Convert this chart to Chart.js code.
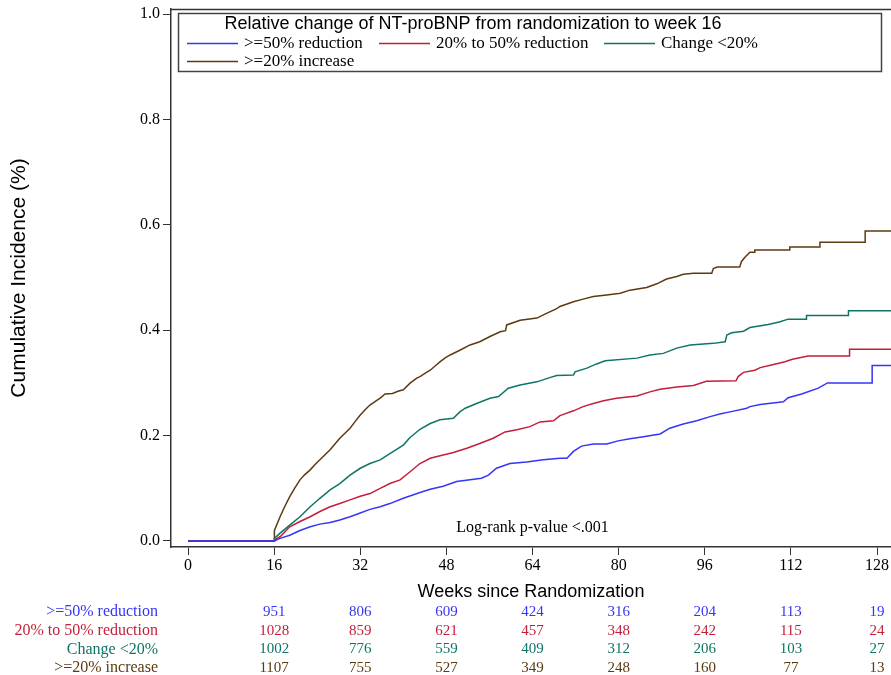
<!DOCTYPE html>
<html><head><meta charset="utf-8">
<script src="https://cdn.jsdelivr.net/npm/chart.js"></script>
<style>html,body{margin:0;padding:0;background:#fff;overflow:hidden}canvas{display:block}</style>
</head><body>
<canvas id="c" width="891" height="675"></canvas>
<script>
// ---- data ----
const xTicks = [0, 16, 32, 48, 64, 80, 96, 112, 128];
const yTicks = [0, 0.2, 0.4, 0.6, 0.8, 1.0];
const riskWeeks = [16, 32, 48, 64, 80, 96, 112, 128];
const groupNames = [">=50% reduction", "20% to 50% reduction", "Change <20%", ">=20% increase"];
const riskBlue  = [951, 806, 609, 424, 316, 204, 113, 19];
const riskRed   = [1028, 859, 621, 457, 348, 242, 115, 24];
const riskTeal  = [1002, 776, 559, 409, 312, 206, 103, 27];
const riskBrown = [1107, 755, 527, 349, 248, 160, 77, 13];
const legendTitle = "Relative change of NT-proBNP from randomization to week 16";
const pText = "Log-rank p-value <.001";

// [week, cumulative incidence] (vertical jumps given as two points at the same week)
const curveBlue = [[0,0],[16,0],[17.1,0.005],[18.9,0.011],[20.8,0.02],[22.7,0.027],[24.5,0.032],[26.4,0.035],[28.2,0.04],[30.1,0.046],[32,0.053],[33.8,0.06],[35.7,0.065],[37.5,0.071],[40,0.081],[43.1,0.092],[45,0.098],[47.4,0.104],[49.9,0.113],[52.4,0.116],[54.5,0.119],[55.8,0.125],[57.3,0.138],[59.8,0.147],[62.9,0.15],[66,0.154],[69.1,0.157],[70.4,0.157],[71.6,0.17],[73.1,0.18],[75.3,0.184],[77.8,0.184],[79.9,0.19],[82.1,0.194],[84.6,0.198],[87.7,0.203],[89.5,0.214],[92,0.222],[94.5,0.228],[97,0.236],[98.8,0.241],[100.7,0.245],[103.8,0.252],[104.4,0.255],[106.3,0.259],[110.6,0.264],[111.5,0.272],[114,0.279],[117.1,0.29],[118.8,0.3],[127.1,0.3],[127.1,0.333],[131,0.333]];
const curveRed = [[0,0],[16,0],[16.05,0.002],[17.1,0.008],[18.9,0.027],[20.8,0.037],[22.7,0.046],[24.5,0.056],[26.4,0.065],[28.2,0.071],[30.1,0.078],[32,0.085],[33.8,0.09],[35.7,0.1],[37.5,0.109],[39.4,0.116],[41.2,0.131],[43.1,0.147],[45,0.157],[47.4,0.163],[49.3,0.168],[51.8,0.176],[54.2,0.185],[56.7,0.195],[58.9,0.207],[61.1,0.211],[63.5,0.217],[65.4,0.226],[67.9,0.228],[69.1,0.238],[71.6,0.247],[73.4,0.255],[75.3,0.261],[77.2,0.266],[79.6,0.271],[83.4,0.275],[85.8,0.283],[87.7,0.288],[90.8,0.292],[93.9,0.295],[96.3,0.303],[101.8,0.304],[102.2,0.312],[103.2,0.32],[105.3,0.324],[106.3,0.329],[108,0.333],[110.9,0.34],[112.3,0.345],[115.2,0.351],[122.9,0.351],[122.9,0.364],[131,0.364]];
const curveTeal = [[0,0],[16,0],[16.05,0.005],[17.1,0.015],[18.9,0.03],[20.8,0.046],[22.7,0.065],[24.5,0.081],[26.4,0.097],[28.2,0.109],[30.1,0.125],[32,0.138],[33.8,0.147],[35.7,0.154],[37.5,0.166],[40,0.182],[41.2,0.196],[43.1,0.212],[45,0.223],[46.8,0.23],[49.3,0.233],[50.5,0.245],[51.5,0.252],[53.6,0.261],[56.1,0.271],[57.7,0.274],[59.5,0.29],[61.7,0.296],[64.8,0.302],[67.2,0.31],[68.5,0.314],[71.6,0.315],[71.9,0.321],[74.1,0.328],[75.9,0.336],[77.5,0.342],[83.4,0.347],[85.8,0.353],[88.3,0.356],[90.8,0.366],[93.3,0.372],[97.6,0.375],[99.8,0.378],[100.1,0.391],[101,0.395],[103.2,0.398],[104.4,0.405],[107.8,0.411],[110,0.416],[111.5,0.421],[114.9,0.421],[114.9,0.428],[122.7,0.428],[122.7,0.437],[131,0.437]];
const curveBrown = [[0,0],[16,0],[16.05,0.02],[17.1,0.046],[18,0.066],[18.9,0.084],[19.8,0.1],[20.8,0.116],[21.7,0.126],[22.7,0.135],[23.6,0.145],[24.5,0.154],[25.5,0.164],[26.4,0.173],[27.3,0.184],[28.2,0.195],[29.2,0.205],[30.1,0.214],[31,0.226],[32,0.239],[32.9,0.249],[33.8,0.258],[34.8,0.265],[35.7,0.271],[36.6,0.279],[38,0.28],[39,0.284],[40,0.287],[41.2,0.299],[42.5,0.309],[43.1,0.312],[44,0.318],[45,0.324],[45.9,0.332],[46.8,0.34],[47.7,0.347],[48.7,0.353],[50.5,0.362],[52.4,0.372],[54.2,0.378],[56.1,0.388],[58,0.397],[59,0.399],[59.2,0.41],[61.7,0.419],[64.8,0.423],[66.6,0.432],[68.5,0.441],[69.1,0.445],[71.6,0.454],[73.4,0.459],[75.3,0.464],[77.8,0.467],[80.3,0.47],[82.1,0.476],[85.2,0.481],[87.1,0.488],[88.9,0.497],[90.8,0.502],[92,0.506],[93.9,0.508],[97.3,0.508],[97.6,0.517],[98.3,0.52],[102.5,0.52],[102.8,0.53],[103.5,0.539],[104.4,0.548],[105.3,0.548],[105.3,0.552],[111.8,0.552],[111.8,0.558],[117.4,0.558],[117.4,0.567],[125.8,0.567],[125.8,0.588],[131,0.588]];

// ---- styles ----
const lineColors = ['#3535f8', '#c41e3a', '#0f7466', '#5c3b12'];
const textColors = ['#3535f8', '#c41e3a', '#0f7466', '#5c3b12'];
const SERIF = '"Liberation Serif", "Times New Roman", serif';
const SANS = '"Liberation Sans", Arial, sans-serif';

const curves = [curveBlue, curveRed, curveTeal, curveBrown];
const risks = [riskBlue, riskRed, riskTeal, riskBrown];

const decor = {
  id: 'decor',
  afterDraw(chart) {
    const {ctx, chartArea: a, scales: {x}} = chart;
    ctx.save();
    // top frame line
    ctx.strokeStyle = '#333'; ctx.lineWidth = 1.5;
    ctx.beginPath(); ctx.moveTo(a.left, a.top + 0.5); ctx.lineTo(a.right + 5, a.top + 0.5); ctx.stroke();

    // legend box
    const bx = 178, by = 13, bw = 703, bh = 58;
    ctx.fillStyle = '#fff'; ctx.fillRect(bx, by, bw, bh);
    ctx.strokeStyle = '#444'; ctx.lineWidth = 1.5; ctx.strokeRect(bx + 0.5, by + 0.5, bw, bh);
    ctx.fillStyle = '#000'; ctx.textBaseline = 'middle'; ctx.textAlign = 'center';
    ctx.font = '18px ' + SANS;
    ctx.fillText(legendTitle, 473, 24);
    const pos = [[187, 43], [379, 43], [604, 43], [187, 61]];
    ctx.font = '17px ' + SERIF; ctx.textAlign = 'left';
    pos.forEach((p, i) => {
      ctx.strokeStyle = lineColors[i]; ctx.lineWidth = 1.3;
      ctx.beginPath(); ctx.moveTo(p[0], p[1] + 0.5); ctx.lineTo(p[0] + 51, p[1] + 0.5); ctx.stroke();
      ctx.fillStyle = '#000';
      ctx.fillText(groupNames[i], p[0] + 57, p[1] + 1);
    });

    // log-rank text
    ctx.fillStyle = '#000'; ctx.textAlign = 'center'; ctx.font = '16px ' + SERIF;
    ctx.fillText(pText, x.getPixelForValue(64), 528);

    // number at risk table
    risks.forEach((r, i) => {
      const yy = 612 + i * 18.7;
      ctx.fillStyle = textColors[i];
      ctx.textAlign = 'right'; ctx.font = '16px ' + SERIF;
      ctx.fillText(groupNames[i], 158, yy);
      ctx.textAlign = 'center'; ctx.font = '15px ' + SERIF;
      r.forEach((v, j) => ctx.fillText(String(v), x.getPixelForValue(riskWeeks[j]), yy));
    });
    ctx.restore();
  }
};

new Chart(document.getElementById('c'), {
  type: 'line',
  data: {
    datasets: curves.map((c, i) => ({
      label: groupNames[i],
      data: c.map(p => ({x: p[0], y: p[1]})),
      borderColor: lineColors[i],
      borderWidth: 1.5,
      pointRadius: 0,
      tension: 0,
      fill: false
    }))
  },
  options: {
    responsive: false,
    animation: false,
    layout: {padding: {top: 9, right: 0, bottom: 72, left: 0}},
    plugins: {legend: {display: false}, tooltip: {enabled: false}},
    scales: {
      x: {
        type: 'linear', min: -3.16, max: 130.6,
        afterBuildTicks: s => { s.ticks = xTicks.map(v => ({value: v})); },
        afterFit: s => { s.height = 56; s.paddingLeft = 0; s.paddingRight = 0; },
        grid: {drawOnChartArea: false, drawTicks: true, tickLength: 8, color: '#333', lineWidth: 1},
        border: {display: true, color: '#333', width: 1.5},
        ticks: {color: '#000', font: {family: SERIF, size: 16}, padding: 1, maxRotation: 0, autoSkip: false},
        title: {display: true, text: 'Weeks since Randomization', color: '#000', font: {family: SANS, size: 18}, padding: {top: 0, bottom: 0}}
      },
      y: {
        min: -0.0114, max: 1.0095,
        afterBuildTicks: s => { s.ticks = yTicks.map(v => ({value: v})); },
        afterFit: s => { s.width = 171; s.paddingTop = 0; s.paddingBottom = 0; },
        grid: {drawOnChartArea: false, drawTicks: true, tickLength: 8, color: '#333', lineWidth: 1},
        border: {display: true, color: '#333', width: 1.5},
        ticks: {color: '#000', font: {family: SERIF, size: 16}, padding: 3, callback: v => Number(v).toFixed(1)},
        title: {display: true, text: 'Cumulative Incidence (%)', color: '#000', font: {family: SANS, size: 21}, padding: {top: 7, bottom: 0}}
      }
    }
  },
  plugins: [decor]
});
</script>
</body></html>
